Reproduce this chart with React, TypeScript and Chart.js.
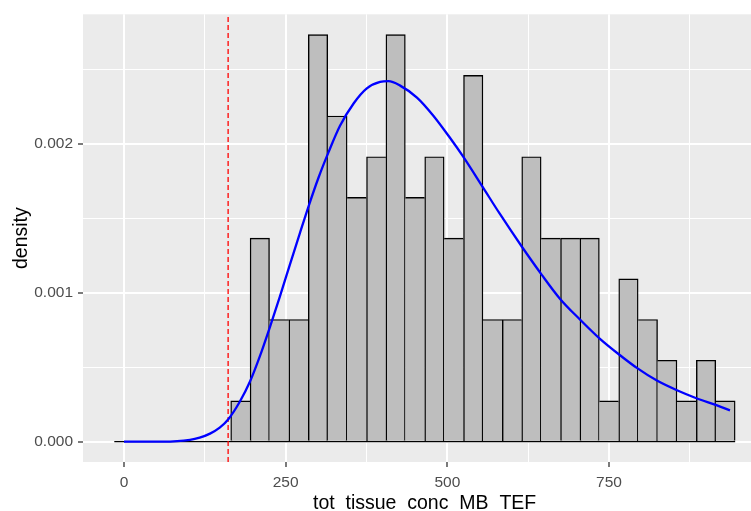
import React, { useEffect, useRef } from 'react';
import { Chart, registerables } from 'chart.js';

Chart.register(...registerables);

// Histogram bins (centres) and counts
const binCenters = [0, 30, 60, 90, 120, 150, 180, 210, 240, 270, 300, 330, 360, 390, 420, 450, 480, 510, 540, 570, 600, 630, 660, 690, 720, 750, 780, 810, 840, 870, 900, 930];
const binCounts = [0, 0, 0, 0, 0, 0, 1, 5, 3, 3, 10, 8, 6, 7, 10, 6, 7, 5, 9, 3, 3, 7, 5, 5, 5, 1, 4, 3, 2, 1, 2, 1];
const binWidth = 30;

// Fitted density curve
const curveX = [0, 60, 102, 117, 133, 148, 161, 179, 195, 210, 226, 241, 257, 272, 285, 301, 316, 334, 355, 375, 396, 409, 427, 453, 478, 504, 525, 556, 581, 615, 646, 674, 705, 736, 767, 793, 824, 855, 886, 916, 937];
const curveY = [0, 0, 0.000012, 0.000027, 0.000054, 0.000094, 0.000149, 0.000268, 0.000405, 0.000572, 0.000774, 0.000974, 0.001195, 0.0014, 0.001575, 0.001775, 0.00194, 0.00212, 0.00227, 0.00237, 0.002415, 0.00242, 0.00239, 0.00231, 0.00219, 0.00204, 0.00191, 0.0017, 0.00153, 0.00131, 0.00112, 0.00096, 0.00082, 0.00069, 0.00058, 0.000495, 0.00041, 0.000345, 0.00029, 0.000245, 0.00021];

// Vertical cut-off line
const cutoffX = 161;

// Axis ticks
const xMajorTicks = [0, 250, 500, 750];
const xMinorTicks = [125, 375, 625, 875];
const yMajorTicks = [0, 0.001, 0.002];
const yMinorTicks = [0.0005, 0.0015, 0.0025];

const xTitle = 'tot  tissue  conc  MB  TEF';
const yTitle = 'density';

// Axis limits
const xMin = -63.4;
const xMax = 969.5;
const xPanelEnd = 993; // true right edge of the (cropped) panel
const yMin = -0.0001366;
const yMax = 0.0028688;

const FONT = '"Liberation Sans", Arial, sans-serif';

export default function App() {
  const ref = useRef<HTMLCanvasElement>(null);

  useEffect(() => {
    document.body.style.margin = '0';
    const n = binCounts.reduce((a, b) => a + b, 0);
    const barData = binCenters.map((c, i) => ({ x: c, y: binCounts[i] / (n * binWidth) }));
    const last = binCenters.length - 1;
    const bw = 1.4;

    const panelBg = {
      id: 'panelBg',
      beforeDraw(chart: any) {
        const { ctx, chartArea } = chart;
        ctx.save();
        ctx.fillStyle = '#EBEBEB';
        ctx.fillRect(chartArea.left, chartArea.top, chartArea.right - chartArea.left, chartArea.bottom - chartArea.top);
        ctx.restore();
      },
    };

    const titles = {
      id: 'titles',
      afterDraw(chart: any) {
        const { ctx, chartArea } = chart;
        const xs = chart.scales.x;
        ctx.save();
        ctx.fillStyle = '#000000';
        ctx.font = `19.5px ${FONT}`;
        ctx.textAlign = 'center';
        ctx.textBaseline = 'alphabetic';
        const cx = xs.getPixelForValue((xMin + xPanelEnd) / 2);
        ctx.fillText(xTitle, cx, 509);
        ctx.translate(26.5, (chartArea.top + chartArea.bottom) / 2);
        ctx.rotate(-Math.PI / 2);
        ctx.fillText(yTitle, 0, 0);
        ctx.restore();
      },
    };

    const chart = new Chart(ref.current as HTMLCanvasElement, {
      type: 'bar',
      data: {
        datasets: [
          {
            type: 'bar',
            data: barData,
            backgroundColor: '#BEBEBE',
            borderColor: '#000000',
            borderSkipped: false,
            barPercentage: 1,
            categoryPercentage: 1,
            grouped: false,
            order: 4,
            borderWidth: (c: any) => {
              const i = c.dataIndex;
              const h = binCounts[i];
              const prev = i > 0 ? binCounts[i - 1] : -1;
              const next = i < last ? binCounts[i + 1] : -1;
              return { top: bw, bottom: 0, left: prev <= h ? bw : 0, right: next < h ? bw : 0 };
            },
          } as any,
          {
            type: 'line',
            data: [
              { x: binCenters[0] - binWidth / 2, y: 0 },
              { x: binCenters[last] + binWidth / 2, y: 0 },
            ],
            borderColor: '#000000',
            borderWidth: 1.4,
            pointRadius: 0,
            order: 3,
          } as any,
          {
            type: 'line',
            data: [
              { x: cutoffX, y: yMin },
              { x: cutoffX, y: yMax },
            ],
            borderColor: '#FF0000',
            borderWidth: 1.3,
            borderDash: [5, 3],
            pointRadius: 0,
            order: 2,
          } as any,
          {
            type: 'line',
            data: curveX.map((x, i) => ({ x, y: curveY[i] })),
            borderColor: '#0000FF',
            borderWidth: 2.3,
            pointRadius: 0,
            cubicInterpolationMode: 'monotone',
            order: 1,
          } as any,
        ],
      },
      options: {
        animation: false,
        responsive: false,
        events: [],
        layout: { padding: { top: 14, left: 0, right: 0, bottom: 0 } },
        plugins: { legend: { display: false }, tooltip: { enabled: false } },
        scales: {
          x: {
            type: 'linear',
            min: xMin,
            max: xMax,
            bounds: 'data',
            offset: false,
            afterBuildTicks: (s: any) => {
              s.ticks = [...xMajorTicks, ...xMinorTicks].sort((a, b) => a - b).map((v) => ({ value: v }));
            },
            afterFit: (s: any) => {
              s.height = 49;
            },
            grid: {
              offset: false,
              color: '#FFFFFF',
              lineWidth: (c: any) => (xMajorTicks.includes(c.tick?.value) ? 2 : 1),
              drawTicks: true,
              tickLength: 5,
              tickWidth: 1.3,
              tickColor: (c: any) => (xMajorTicks.includes(c.tick?.value) ? '#333333' : 'rgba(0,0,0,0)'),
            },
            border: { display: false },
            ticks: {
              autoSkip: false,
              maxRotation: 0,
              padding: 6,
              color: '#4D4D4D',
              font: { family: FONT, size: 15.5 },
              callback: (v: any) => (xMajorTicks.includes(v) ? String(v) : ''),
            },
          } as any,
          y: {
            type: 'linear',
            min: yMin,
            max: yMax,
            bounds: 'data',
            afterBuildTicks: (s: any) => {
              s.ticks = [...yMajorTicks, ...yMinorTicks].sort((a, b) => a - b).map((v) => ({ value: v }));
            },
            afterFit: (s: any) => {
              s.width = 83;
            },
            grid: {
              color: '#FFFFFF',
              lineWidth: (c: any) => (yMajorTicks.includes(c.tick?.value) ? 2 : 1),
              drawTicks: true,
              tickLength: 5,
              tickWidth: 1.3,
              tickColor: (c: any) => (yMajorTicks.includes(c.tick?.value) ? '#333333' : 'rgba(0,0,0,0)'),
            },
            border: { display: false },
            ticks: {
              autoSkip: false,
              padding: 5,
              color: '#4D4D4D',
              font: { family: FONT, size: 15.5 },
              callback: (v: any) => (yMajorTicks.includes(v) ? Number(v).toFixed(3) : ''),
            },
          } as any,
        },
      },
      plugins: [panelBg, titles],
    } as any);

    return () => chart.destroy();
  }, []);

  return (
    <div style={{ width: 751, height: 511 }}>
      <canvas ref={ref} width={751} height={511} style={{ display: 'block' }} />
    </div>
  );
}
